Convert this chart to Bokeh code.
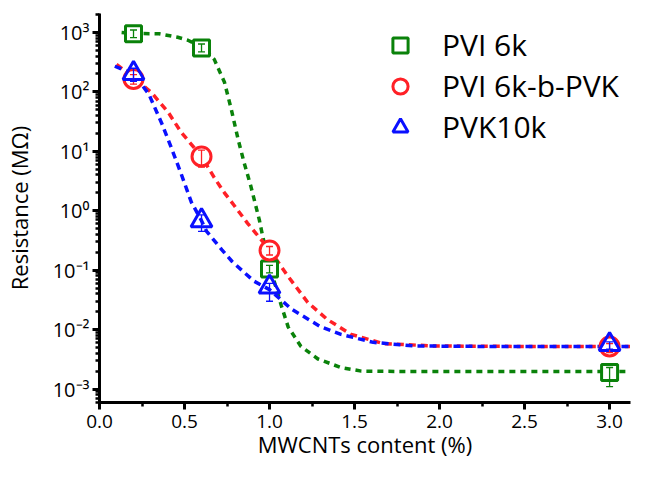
from bokeh.plotting import figure
from bokeh.models import (ColumnDataSource, FixedTicker, SingleIntervalTicker, CustomJSTickFormatter,
                          Whisker, TeeHead, Legend, LegendItem)
from bokeh.embed import file_html
from bokeh.resources import INLINE

# ---- measured data ----
content = [0.2, 0.6, 1.0, 3.0]
pvi6k = [950, 550, 0.105, 0.0019]
pvi6k_lo = [820, 470, 0.09, 0.0011]
pvi6k_hi = [1100, 640, 0.12, 0.0023]
blk = [165, 8.2, 0.215, 0.0052]
blk_lo = [135, 5.4, 0.18, 0.0041]
blk_hi = [195, 10.5, 0.25, 0.0058]
pvk10k = [205, 0.68, 0.052, 0.0056]
pvk10k_lo = [150, 0.45, 0.030, 0.0047]
pvk10k_hi = [250, 0.85, 0.060, 0.0062]

# fitted curves
fit_g_x = [0.13, 0.2, 0.35, 0.46, 0.52, 0.61, 0.675, 0.735, 0.775, 0.815, 0.85, 0.89, 0.94, 0.96,
           1.0, 1.07, 1.11, 1.185, 1.285, 1.42, 1.54, 1.8, 2.2, 2.6, 3.12]
fit_g_y = [1000, 960, 950, 830, 740, 560, 352, 145, 51, 16, 6.5, 2.6, 0.7, 0.37,
           0.12, 0.025, 0.011, 0.0052, 0.0032, 0.0023, 0.0020, 0.00197, 0.00197, 0.00197, 0.00197]
fit_r_x = [0.1, 0.2, 0.305, 0.405, 0.48, 0.6, 0.675, 0.735, 0.79, 0.87, 1.0, 1.11, 1.225, 1.34,
           1.48, 1.67, 1.97, 2.5, 3.12]
fit_r_y = [290, 175, 98, 45, 21, 8.2, 3.6, 2.0, 1.25, 0.62, 0.22, 0.078, 0.0286, 0.0148,
           0.0083, 0.0058, 0.0053, 0.0052, 0.0052]
fit_b_x = [0.09, 0.2, 0.29, 0.365, 0.42, 0.48, 0.54, 0.6, 0.63, 0.72, 0.78, 0.85, 0.91, 1.0,
           1.13, 1.30, 1.42, 1.61, 1.85, 2.3, 3.12]
fit_b_y = [270, 200, 92, 30, 12, 4.2, 1.4, 0.68, 0.45, 0.22, 0.14, 0.092, 0.065, 0.047,
           0.022, 0.0112, 0.0083, 0.0061, 0.0053, 0.0052, 0.0052]

x_title = "MWCNTs content (%)"
y_title = "Resistance (M\u03a9)"
series_names = ["PVI 6k", "PVI 6k-b-PVK", "PVK10k"]

FONT = "Open Sans"

p = figure(width=632, height=461, x_range=(0, 3.123), y_range=(5.93e-4, 2085),
           y_axis_type="log", output_backend="svg", toolbar_location=None,
           min_border_left=98, min_border_right=2, min_border_top=13, min_border_bottom=58)
p.outline_line_color = None
p.grid.visible = False
p.background_fill_color = "white"

GREEN = "#0a820a"
RED = "#ff2026"
BLUE = "#0a10ff"

p.line(fit_g_x, fit_g_y, line_color=GREEN, line_width=3.5, line_dash="6 5")
p.line(fit_r_x, fit_r_y, line_color=RED, line_width=3.5, line_dash="7 5")
p.line(fit_b_x, fit_b_y, line_color=BLUE, line_width=3.5, line_dash="7 5")

sg = ColumnDataSource(dict(x=content, y=pvi6k, lo=pvi6k_lo, hi=pvi6k_hi))
sr = ColumnDataSource(dict(x=content, y=blk, lo=blk_lo, hi=blk_hi))
sb = ColumnDataSource(dict(x=content, y=pvk10k, lo=pvk10k_lo, hi=pvk10k_hi))

rg = p.scatter("x", "y", source=sg, marker="square", size=16, line_color=GREEN, line_width=3,
               fill_color="white")
rr = p.scatter("x", "y", source=sr, marker="circle", size=19, line_color=RED, line_width=3,
               fill_color="white")
rb = p.scatter("x", "y", source=sb, marker="triangle", size=21, line_color=BLUE, line_width=3,
               fill_color=None)

for src, col in ((sg, GREEN), (sr, RED), (sb, BLUE)):
    w = Whisker(source=src, base="x", lower="lo", upper="hi", dimension="height",
                line_color=col, line_width=1.3, level="overlay",
                upper_head=TeeHead(size=7, line_color=col, line_width=1.3),
                lower_head=TeeHead(size=7, line_color=col, line_width=1.3))
    p.add_layout(w)

# axes
for ax in (p.xaxis[0], p.yaxis[0]):
    ax.axis_line_width = 3
    ax.axis_line_color = "black"
    ax.major_tick_line_width = 3
    ax.minor_tick_line_width = 2.5
    ax.major_tick_in = 0
    ax.minor_tick_in = 0
    ax.major_tick_out = 7
    ax.minor_tick_out = 4
    ax.major_label_text_font = FONT
    ax.major_label_text_font_size = "19px"
    ax.major_label_text_color = "black"
    ax.axis_label_text_font = FONT
    ax.axis_label_text_font_size = "22px"
    ax.axis_label_text_font_style = "normal"
    ax.axis_label_text_color = "black"

p.xaxis.ticker = SingleIntervalTicker(interval=0.5, num_minor_ticks=2)
p.xaxis.formatter = CustomJSTickFormatter(code="return tick.toFixed(1);")
p.xaxis.axis_label = x_title
p.xaxis.major_label_standoff = 5
p.xaxis.axis_label_standoff = -2

majors = [10.0 ** e for e in range(-3, 4)]
minors = [k * 10.0 ** e for e in range(-4, 4) for k in range(2, 10)]
p.yaxis.ticker = FixedTicker(ticks=majors, minor_ticks=minors)
p.yaxis.formatter = CustomJSTickFormatter(code="""
const sup = {"-":"\u207b","0":"\u2070","1":"\u00b9","2":"\u00b2","3":"\u00b3","4":"\u2074",
             "5":"\u2075","6":"\u2076","7":"\u2077","8":"\u2078","9":"\u2079"};
const e = Math.round(Math.log10(tick));
return "10" + String(e).split("").map(c => sup[c]).join("");
""")
p.yaxis.major_label_text_font_size = "20px"
p.yaxis.major_label_standoff = 3
p.yaxis.axis_label = y_title
p.yaxis.axis_label_standoff = 16

legend = Legend(items=[LegendItem(label=series_names[0], renderers=[rg]),
                       LegendItem(label=series_names[1], renderers=[rr]),
                       LegendItem(label=series_names[2], renderers=[rb])],
                location=(280, 255), border_line_color=None, background_fill_alpha=0,
                padding=0, spacing=0, margin=0, glyph_width=42, glyph_height=38,
                label_height=38, label_standoff=21, label_text_font=FONT,
                label_text_font_size="30px", label_text_color="black")
p.add_layout(legend)

open("out.html", "w").write(file_html(p, INLINE))
